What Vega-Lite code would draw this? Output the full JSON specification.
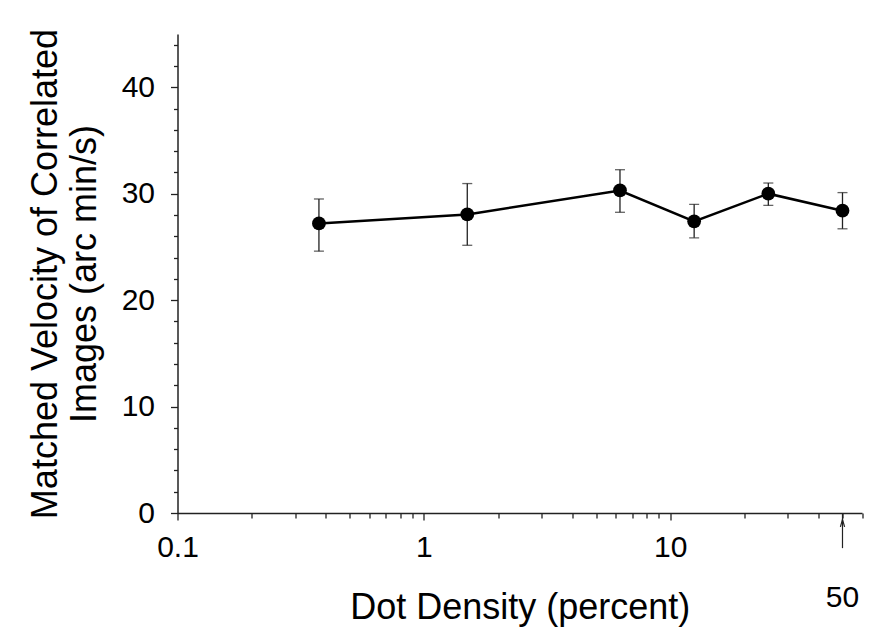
{
  "$schema": "https://vega.github.io/schema/vega-lite/v6.json",
  "autosize": "none",
  "width": 684.5,
  "height": 479,
  "padding": {"left": 177.5, "top": 34, "right": 23, "bottom": 121},
  "background": "white",
  "config": {
    "view": {"stroke": null},
    "font": "Liberation Sans",
    "axis": {
      "domainColor": "#222",
      "domainWidth": 1.5,
      "tickColor": "#222",
      "tickWidth": 1.3,
      "grid": false,
      "labelColor": "black",
      "titleColor": "black",
      "labelFont": "Liberation Sans",
      "titleFont": "Liberation Sans",
      "labelFontSize": 30,
      "titleFontSize": 36,
      "titleFontWeight": "normal",
      "labelOverlap": false
    }
  },
  "data": {
    "values": [
      {"density": 0.375, "velocity": 27.2, "lo": 24.6, "hi": 29.5},
      {"density": 1.5, "velocity": 28.05, "lo": 25.15, "hi": 30.95},
      {"density": 6.25, "velocity": 30.3, "lo": 28.25, "hi": 32.25},
      {"density": 12.5, "velocity": 27.4, "lo": 25.85, "hi": 29.0},
      {"density": 25, "velocity": 30.0, "lo": 28.9, "hi": 31.0},
      {"density": 50, "velocity": 28.4, "lo": 26.7, "hi": 30.1}
    ]
  },
  "encoding": {
    "x": {
      "field": "density",
      "type": "quantitative",
      "scale": {"type": "log", "domain": [0.1, 60], "nice": false},
      "axis": {
        "title": "Dot Density (percent)",
        "titlePadding": 28,
        "values": [0.1, 0.2, 0.3, 0.4, 0.5, 0.6, 0.7, 0.8, 0.9, 1, 2, 3, 4, 5, 6, 7, 8, 9, 10, 20, 30, 40, 50, 60],
        "labelExpr": "datum.value == 0.1 ? '0.1' : datum.value == 1 ? '1' : datum.value == 10 ? '10' : ''",
        "tickSize": {"condition": {"test": "datum.value == 0.1 || datum.value == 1 || datum.value == 10", "value": 7}, "value": 5},
        "labelPadding": 12,
        "labelFlush": false,
        "labelOverlap": false
      }
    },
    "y": {
      "field": "velocity",
      "type": "quantitative",
      "scale": {"domain": [0, 45], "nice": false},
      "axis": {
        "title": ["Matched Velocity of Correlated", "Images (arc min/s)"],
        "titleLineHeight": 39,
        "titlePadding": 18,
        "values": [0, 2, 4, 6, 8, 10, 12, 14, 16, 18, 20, 22, 24, 26, 28, 30, 32, 34, 36, 38, 40, 42, 44],
        "labelExpr": "(datum.value == 0 || datum.value == 10 || datum.value == 20 || datum.value == 30 || datum.value == 40) ? ('' + datum.value) : ''",
        "tickSize": {"condition": {"test": "datum.value == 0 || datum.value == 10 || datum.value == 20 || datum.value == 30 || datum.value == 40", "value": 7}, "value": 4},
        "labelPadding": 16,
        "labelOverlap": false
      }
    }
  },
  "layer": [
    {
      "mark": {"type": "rule", "color": "#222", "strokeWidth": 1.3},
      "encoding": {
        "y": {"field": "lo", "type": "quantitative"},
        "y2": {"field": "hi"}
      }
    },
    {
      "mark": {"type": "tick", "color": "#222", "orient": "horizontal", "size": 10, "thickness": 1.3},
      "encoding": {
        "y": {"field": "lo", "type": "quantitative"}
      }
    },
    {
      "mark": {"type": "tick", "color": "#222", "orient": "horizontal", "size": 10, "thickness": 1.3},
      "encoding": {
        "y": {"field": "hi", "type": "quantitative"}
      }
    },
    {
      "mark": {"type": "line", "color": "black", "strokeWidth": 2.5},
      "encoding": {}
    },
    {
      "mark": {"type": "point", "filled": true, "color": "black", "size": 190, "opacity": 1},
      "encoding": {}
    },
    {
      "transform": [{"filter": "datum.density == 50"}],
      "mark": {"type": "rule", "color": "#222", "strokeWidth": 1.2},
      "encoding": {
        "y": {"datum": 0},
        "y2": {"datum": -3.3}
      }
    },
    {
      "transform": [{"filter": "datum.density == 50"}],
      "mark": {"type": "point", "shape": "M-0.5,1.8L0,0L0.5,1.8", "filled": false, "color": "#222", "size": 70, "strokeWidth": 1.2, "opacity": 1},
      "encoding": {
        "y": {"datum": -0.6}
      }
    },
    {
      "transform": [{"filter": "datum.density == 50"}],
      "mark": {"type": "text", "fontSize": 30, "font": "Liberation Sans", "color": "black", "baseline": "middle", "align": "center", "text": "50"},
      "encoding": {
        "y": {"datum": -8}
      }
    }
  ]
}
